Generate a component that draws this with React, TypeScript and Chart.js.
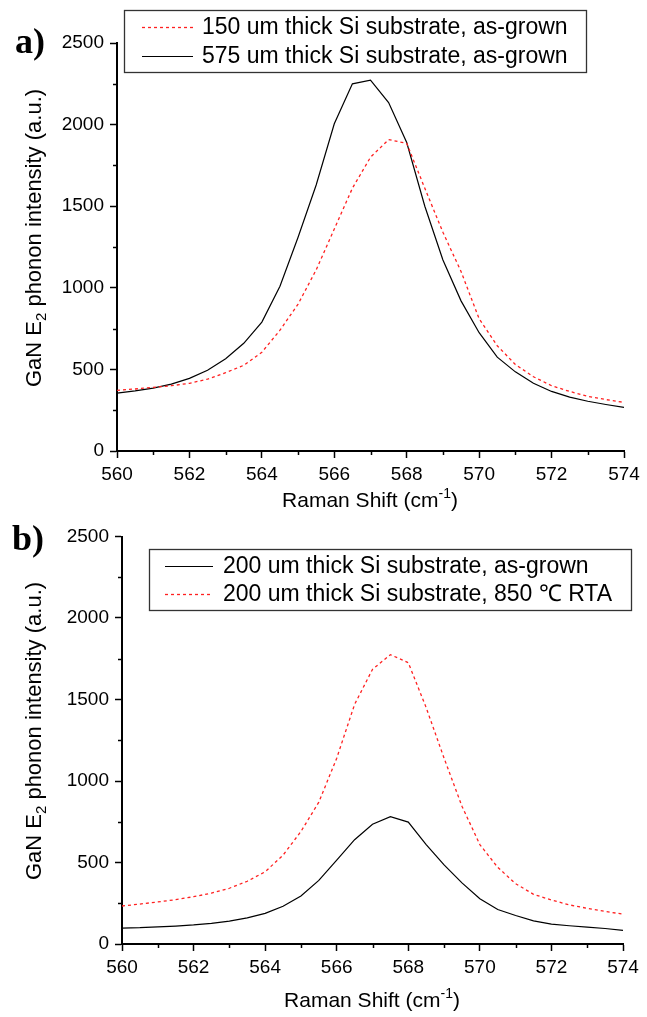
import React, { useEffect, useRef } from "react";
import { Chart, registerables } from "chart.js";
Chart.register(...registerables);

// ---- data ----
const ramanShift = [560, 560.5, 561, 561.5, 562, 562.5, 563, 563.5, 564, 564.5, 565, 565.5, 566, 566.5, 567, 567.5, 568, 568.5, 569, 569.5, 570, 570.5, 571, 571.5, 572, 572.5, 573, 573.5, 574];
const a150um = [372, 380, 390, 400, 415, 440, 480, 525, 605, 740, 900, 1110, 1360, 1610, 1800, 1908, 1885, 1610, 1340, 1100, 810, 645, 530, 455, 400, 365, 335, 315, 298];
const a575um = [355, 368, 385, 410, 445, 495, 565, 660, 790, 1010, 1310, 1630, 2005, 2250, 2272, 2135, 1890, 1500, 1170, 920, 725, 575, 485, 415, 365, 330, 305, 285, 267];
const b200Grown = [98, 100, 105, 110, 117, 127, 140, 160, 188, 232, 295, 390, 515, 640, 735, 781, 748, 610, 485, 375, 278, 212, 175, 142, 122, 112, 104, 95, 84];
const b200Rta = [233, 245, 258, 272, 290, 312, 342, 385, 443, 545, 690, 870, 1140, 1470, 1685, 1775, 1726, 1450, 1140, 845, 610, 470, 370, 305, 270, 240, 219, 200, 183];
const xMinorTicks = [561, 563, 565, 567, 569, 571, 573];
const yMinorTicks = [250, 750, 1250, 1750, 2250];
const legendA = ["150 um thick Si substrate, as-grown", "575 um thick Si substrate, as-grown"];
const legendB = ["200 um thick Si substrate, as-grown", "200 um thick Si substrate, 850 \u2103 RTA"];

const SANS = '"Liberation Sans", Arial, Helvetica, sans-serif';
const SERIF = '"Liberation Serif", "Times New Roman", serif';
const RED = "#ff2020";

const decoPlugin = {
  id: "deco",
  afterDraw(chart: any, _args: any, o: any) {
    const ctx = chart.ctx;
    const xs = chart.scales.x;
    const ys = chart.scales.y;
    const ca = chart.chartArea;
    ctx.save();
    // minor ticks
    ctx.strokeStyle = "#000";
    ctx.lineWidth = 1.5;
    xMinorTicks.forEach((v) => {
      const px = Math.round(xs.getPixelForValue(v)) + 0.5;
      ctx.beginPath();
      ctx.moveTo(px, ca.bottom);
      ctx.lineTo(px, ca.bottom + 4);
      ctx.stroke();
    });
    yMinorTicks.forEach((v) => {
      const py = Math.round(ys.getPixelForValue(v)) + 0.5;
      ctx.beginPath();
      ctx.moveTo(ca.left - 4, py);
      ctx.lineTo(ca.left, py);
      ctx.stroke();
    });

    // panel label
    ctx.fillStyle = "#000";
    ctx.font = `bold 36px ${SERIF}`;
    ctx.textBaseline = "middle";
    ctx.textAlign = "left";
    ctx.fillText(o.panel, o.panelX, o.panelY);

    // y title with subscript
    ctx.save();
    ctx.translate(o.yTitleX, o.yTitleY);
    ctx.rotate(-Math.PI / 2);
    const bigY = `22px ${SANS}`;
    const smallY = `15px ${SANS}`;
    ctx.font = bigY;
    const p1 = "GaN E";
    const p3 = " phonon intensity (a.u.)";
    const w1 = ctx.measureText(p1).width;
    const w3 = ctx.measureText(p3).width;
    ctx.font = smallY;
    const w2 = ctx.measureText("2").width;
    const sx = -(w1 + w2 + w3) / 2;
    ctx.textBaseline = "alphabetic";
    ctx.font = bigY;
    ctx.fillText(p1, sx, 8);
    ctx.font = smallY;
    ctx.fillText("2", sx + w1, 13);
    ctx.font = bigY;
    ctx.fillText(p3, sx + w1 + w2, 8);
    ctx.restore();

    // x title with superscript
    const big = `21px ${SANS}`;
    const small = `14px ${SANS}`;
    ctx.font = big;
    const q1 = "Raman Shift (cm";
    const q3 = ")";
    const v1 = ctx.measureText(q1).width;
    const v3 = ctx.measureText(q3).width;
    ctx.font = small;
    const v2 = ctx.measureText("-1").width;
    const tx = o.xTitleX - (v1 + v2 + v3) / 2;
    ctx.textBaseline = "alphabetic";
    ctx.font = big;
    ctx.fillText(q1, tx, o.xTitleY + 7);
    ctx.font = small;
    ctx.fillText("-1", tx + v1, o.xTitleY - 2);
    ctx.font = big;
    ctx.fillText(q3, tx + v1 + v2, o.xTitleY + 7);

    // legend
    const L = o.legend;
    ctx.fillStyle = "#fff";
    ctx.fillRect(L.x1, L.y1, L.x2 - L.x1, L.y2 - L.y1);
    ctx.strokeStyle = "#333";
    ctx.lineWidth = 1.3;
    ctx.strokeRect(L.x1 + 0.5, L.y1 + 0.5, L.x2 - L.x1, L.y2 - L.y1);
    chart.data.datasets.forEach((ds: any) => {
      const ry = L.rows[ds.legendRow];
      ctx.beginPath();
      ctx.strokeStyle = ds.borderColor;
      ctx.lineWidth = ds.borderWidth;
      ctx.setLineDash(ds.borderDash || []);
      ctx.moveTo(L.s1, ry + 0.5);
      ctx.lineTo(L.s2, ry + 0.5);
      ctx.stroke();
      ctx.setLineDash([]);
      ctx.fillStyle = "#000";
      ctx.font = `23px ${SANS}`;
      ctx.textBaseline = "middle";
      ctx.fillText(ds.label, L.tx, ry + 1);
    });
    ctx.restore();
  },
};

function makeConfig(datasets: any[], deco: any, area: { right: number; top: number; yWidth: number; xHeight: number }) {
  return {
    type: "line",
    data: { datasets },
    plugins: [decoPlugin],
    options: {
      animation: false,
      responsive: false,
      devicePixelRatio: 1,
      layout: { padding: { left: 0, top: area.top, right: area.right, bottom: 0 } },
      plugins: { legend: { display: false }, tooltip: { enabled: false }, deco },
      elements: { point: { radius: 0 }, line: { tension: 0 } },
      scales: {
        x: {
          type: "linear",
          min: 560,
          max: 574,
          border: { display: true, color: "#000", width: 2 },
          grid: { display: true, drawOnChartArea: false, drawTicks: true, tickLength: 7, tickWidth: 1.5, tickColor: "#000" },
          ticks: { stepSize: 2, color: "#000", font: { family: SANS, size: 19 }, padding: 5, maxRotation: 0, autoSkip: false, callback: (v: any) => String(v) },
          afterFit: (s: any) => {
            s.height = area.xHeight;
            s.paddingLeft = 0;
            s.paddingRight = 0;
          },
        },
        y: {
          min: 0,
          max: 2500,
          border: { display: true, color: "#000", width: 2 },
          grid: { display: true, drawOnChartArea: false, drawTicks: true, tickLength: 7, tickWidth: 1.5, tickColor: "#000" },
          ticks: { stepSize: 500, color: "#000", font: { family: SANS, size: 19 }, padding: 6, callback: (v: any) => String(v) },
          afterFit: (s: any) => {
            s.width = area.yWidth;
            s.paddingTop = 0;
            s.paddingBottom = 0;
          },
        },
      },
    },
  };
}

function toPoints(ys: number[]) {
  return ramanShift.map((x, i) => ({ x, y: ys[i] }));
}

function Panel(props: { top: number; height: number; config: any }) {
  const ref = useRef<HTMLCanvasElement>(null);
  useEffect(() => {
    const chart = new Chart(ref.current as HTMLCanvasElement, props.config);
    return () => chart.destroy();
  }, []);
  return (
    <canvas
      ref={ref}
      width={647}
      height={props.height}
      style={{ position: "absolute", left: 0, top: props.top, width: 647, height: props.height }}
    />
  );
}

export default function App() {
  const configA = makeConfig(
    [
      { label: legendA[0], data: toPoints(a150um), borderColor: RED, borderWidth: 1.3, borderDash: [3, 3], legendRow: 0 },
      { label: legendA[1], data: toPoints(a575um), borderColor: "#000", borderWidth: 1.2, legendRow: 1 },
    ],
    {
      panel: "a)", panelX: 15, panelY: 44,
      yTitleX: 33, yTitleY: 238,
      xTitleX: 370, xTitleY: 500,
      legend: { x1: 124, y1: 10, x2: 586, y2: 72, rows: [27, 56], s1: 142, s2: 193, tx: 202 },
    },
    { right: 23, top: 43, yWidth: 117, xHeight: 518 - 451 }
  );
  const configB = makeConfig(
    [
      { label: legendB[1], data: toPoints(b200Rta), borderColor: RED, borderWidth: 1.3, borderDash: [3, 3], legendRow: 1 },
      { label: legendB[0], data: toPoints(b200Grown), borderColor: "#000", borderWidth: 1.2, legendRow: 0 },
    ],
    {
      panel: "b)", panelX: 12, panelY: 33,
      yTitleX: 33, yTitleY: 223,
      xTitleX: 372, xTitleY: 492,
      legend: { x1: 149, y1: 41, x2: 631, y2: 102, rows: [58, 86], s1: 165, s2: 213, tx: 223 },
    },
    { right: 24, top: 28.5, yWidth: 122, xHeight: 509 - 436 }
  );
  return (
    <div style={{ position: "absolute", left: 0, top: 0, width: 647, height: 1017, background: "#fff" }}>
      <Panel top={0} height={518} config={configA} />
      <Panel top={508} height={509} config={configB} />
    </div>
  );
}
